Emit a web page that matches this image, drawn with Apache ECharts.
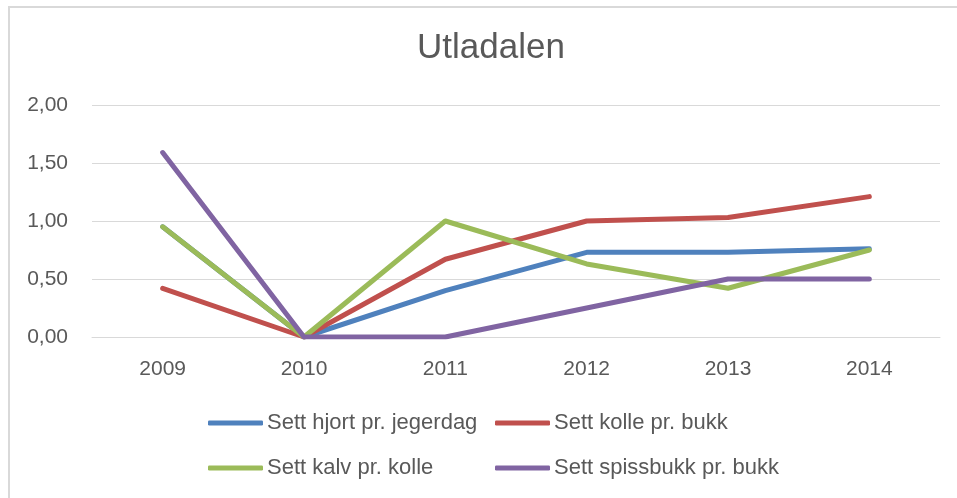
<!DOCTYPE html>
<html>
<head>
<meta charset="utf-8">
<script src="https://cdn.jsdelivr.net/npm/echarts@6/dist/echarts.min.js"></script>
<style>
  html, body { margin: 0; padding: 0; background: #fff; overflow: hidden; }
  #frame { position: absolute; left: 8px; top: 6px; width: 960px; height: 500px; border-left: 2px solid #d9d9d9; border-top: 2px solid #d9d9d9; }
  #chart { position: absolute; left: 0; top: 0; width: 957px; height: 498px; }
</style>
</head>
<body>
<div id="frame"></div>
<div id="chart"></div>
<script>
// år langs x-aksen
var years = ['2009', '2010', '2011', '2012', '2013', '2014']
// seriene, lest av figuren
var hjortPrJegerdag = [0.95, 0, 0.40, 0.73, 0.73, 0.76]
var kollePrBukk = [0.42, 0, 0.67, 1.00, 1.03, 1.21]
var kalvPrKolle = [0.95, 0, 1.00, 0.63, 0.42, 0.75]
var spissbukkPrBukk = [1.59, 0, 0, 0.25, 0.50, 0.50]

var names = ['Sett hjort pr. jegerdag', 'Sett kolle pr. bukk', 'Sett kalv pr. kolle', 'Sett spissbukk pr. bukk']
var colors = ['#4F81BD', '#C0504D', '#9BBB59', '#8064A2']
var fontFamily = 'Liberation Sans, Arial, sans-serif'

function line(name, data, color) {
  return {
    name: name,
    type: 'line',
    data: data,
    symbol: 'none',
    lineStyle: { color: color, width: 5, cap: 'round', join: 'round' },
    itemStyle: { color: color }
  }
}

var legendBase = {
  orient: 'vertical',
  top: 412,
  padding: 0,
  itemWidth: 55,
  itemHeight: 5,
  itemGap: 23,
  icon: 'roundRect',
  textStyle: { color: '#595959', fontSize: 22, fontFamily: fontFamily, padding: [0, 0, 0, -1] }
}

var chart = echarts.init(document.getElementById('chart'))
chart.setOption({
  animation: false,
  title: {
    text: 'Utladalen',
    left: 412,
    top: 26,
    textStyle: { color: '#595959', fontSize: 35, fontWeight: 'normal', fontFamily: fontFamily }
  },
  legend: [
    Object.assign({}, legendBase, { left: 208, data: [names[0], names[2]] }),
    Object.assign({}, legendBase, { left: 495, data: [names[1], names[3]] })
  ],
  grid: { left: 92, right: 17, top: 105, bottom: 161 },
  xAxis: {
    type: 'category',
    data: years,
    boundaryGap: true,
    axisLine: { lineStyle: { color: '#d9d9d9', width: 1 } },
    axisTick: { show: false },
    axisLabel: { color: '#595959', fontSize: 21, fontFamily: fontFamily, margin: 22 }
  },
  yAxis: {
    type: 'value',
    min: 0,
    max: 2,
    interval: 0.5,
    axisLine: { show: false },
    axisTick: { show: false },
    splitLine: { lineStyle: { color: '#d9d9d9', width: 1 } },
    axisLabel: {
      color: '#595959', fontSize: 21, fontFamily: fontFamily, margin: 24,
      formatter: function (v) { return v.toFixed(2).replace('.', ',') }
    }
  },
  series: [
    line(names[0], hjortPrJegerdag, colors[0]),
    line(names[1], kollePrBukk, colors[1]),
    line(names[2], kalvPrKolle, colors[2]),
    line(names[3], spissbukkPrBukk, colors[3])
  ]
})
</script>
</body>
</html>
